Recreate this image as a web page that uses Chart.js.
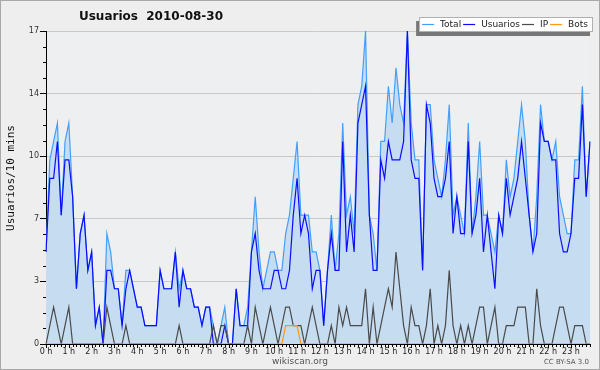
<!DOCTYPE html>
<html>
<head>
<meta charset="utf-8">
<script src="https://cdn.jsdelivr.net/npm/chart.js@4"></script>
<style>
  html, body { margin: 0; padding: 0; background: #eeeeee; }
  #usuarios { display: block; }
</style>
</head>
<body>
<canvas id="usuarios" width="600" height="370"></canvas>
<script>
// 10-minute slots of the day, 00:00 .. 23:50
const times = Array.from({ length: 144 }, (_, i) =>
  String(Math.floor(i / 6)).padStart(2, "0") + ":" + String((i % 6) * 10).padStart(2, "0"));

const hourLabels = ["0 h", "1 h", "2 h", "3 h", "4 h", "5 h", "6 h", "7 h", "8 h", "9 h", "10 h", "11 h",
  "12 h", "13 h", "14 h", "15 h", "16 h", "17 h", "18 h", "19 h", "20 h", "21 h", "22 h", "23 h"];

const seriesNames = ["Total", "Usuarios", "IP", "Bots"];

// one row = two hours
const total = [
  5, 10, 11, 12, 7, 11, 12, 8, 3, 6, 7, 4,
  5, 1, 2, 0, 6, 5, 3, 3, 1, 4, 4, 3,
  2, 2, 1, 1, 1, 1, 4, 3, 3, 3, 5, 3,
  4, 3, 3, 2, 2, 1, 2, 2, 1, 0, 1, 2,
  0, 0, 3, 1, 1, 2, 5, 8, 5, 3, 4, 5,
  5, 4, 4, 6, 7, 9, 11, 7, 7, 7, 5, 5,
  4, 1, 4, 7, 4, 6, 12, 7, 8, 6, 13, 14,
  17, 7, 6, 4, 11, 11, 14, 12, 15, 13, 12, 17,
  12, 10, 10, 4, 13, 13, 10, 9, 8, 10, 13, 7,
  8, 7, 6, 12, 6, 8, 11, 7, 7, 6, 5, 7,
  6, 10, 8, 9, 11, 13, 11, 7, 5, 8, 13, 11,
  11, 10, 11, 8, 7, 6, 6, 10, 10, 14, 8, 11
];

const usuarios = [
  5, 9, 9, 11, 7, 10, 10, 8, 3, 6, 7, 4,
  5, 1, 2, 0, 4, 4, 3, 3, 1, 3, 4, 3,
  2, 2, 1, 1, 1, 1, 4, 3, 3, 3, 5, 2,
  4, 3, 3, 2, 2, 1, 2, 2, 0, 0, 0, 1,
  0, 0, 3, 1, 1, 1, 5, 6, 4, 3, 3, 3,
  4, 4, 3, 3, 4, 7, 9, 6, 7, 6, 3, 4,
  4, 1, 4, 6, 4, 4, 11, 5, 7, 5, 12, 13,
  14, 7, 4, 4, 10, 9, 11, 10, 10, 10, 11, 17,
  10, 9, 9, 4, 13, 12, 9, 8, 8, 9, 11, 6,
  8, 6, 6, 11, 6, 7, 9, 5, 7, 5, 3, 7,
  6, 9, 7, 8, 9, 11, 9, 7, 5, 6, 12, 11,
  11, 10, 10, 6, 5, 5, 6, 9, 9, 13, 8, 11
];

const ip = [
  0, 1, 2, 1, 0, 1, 2, 0, 0, 0, 0, 0,
  0, 0, 0, 0, 2, 1, 0, 0, 0, 1, 0, 0,
  0, 0, 0, 0, 0, 0, 0, 0, 0, 0, 0, 1,
  0, 0, 0, 0, 0, 0, 0, 0, 1, 0, 1, 1,
  0, 0, 0, 0, 0, 1, 0, 2, 1, 0, 1, 2,
  1, 0, 1, 2, 2, 1, 1, 1, 0, 1, 2, 1,
  0, 0, 0, 1, 0, 2, 1, 2, 1, 1, 1, 1,
  3, 0, 2, 0, 1, 2, 3, 2, 5, 3, 1, 0,
  2, 1, 1, 0, 1, 3, 0, 1, 0, 1, 4, 1,
  0, 1, 0, 1, 0, 1, 2, 2, 0, 1, 2, 0,
  0, 1, 1, 1, 2, 2, 2, 0, 0, 3, 1, 0,
  0, 0, 1, 2, 2, 1, 0, 1, 1, 1, 0, 0
];

const bots = [
  0, 0, 0, 0, 0, 0, 0, 0, 0, 0, 0, 0,
  0, 0, 0, 0, 0, 0, 0, 0, 0, 0, 0, 0,
  0, 0, 0, 0, 0, 0, 0, 0, 0, 0, 0, 0,
  0, 0, 0, 0, 0, 0, 0, 0, 0, 0, 0, 0,
  0, 0, 0, 0, 0, 0, 0, 0, 0, 0, 0, 0,
  0, 0, 0, 1, 1, 1, 1, 0, 0, 0, 0, 0,
  0, 0, 0, 0, 0, 0, 0, 0, 0, 0, 0, 0,
  0, 0, 0, 0, 0, 0, 0, 0, 0, 0, 0, 0,
  0, 0, 0, 0, 0, 0, 0, 0, 0, 0, 0, 0,
  0, 0, 0, 0, 0, 0, 0, 0, 0, 0, 0, 0,
  0, 0, 0, 0, 0, 0, 0, 0, 0, 0, 0, 0,
  0, 0, 0, 0, 0, 0, 0, 0, 0, 0, 0, 0
];

// y axis: 5 equal steps up to 17, labels shown rounded
const yMax = 17;
const yTickValues = [0, 3.4, 6.8, 10.2, 13.6, 17];
const yTickLabels = ["0", "3", "7", "10", "14", "17"];

const FONT = "'DejaVu Sans', sans-serif";

// background, title, legend, minor ticks, footer
const decorations = {
  id: "decorations",
  beforeDraw(chart) {
    const { ctx, chartArea: a } = chart;
    ctx.save();
    ctx.fillStyle = "#eeeeee";
    ctx.fillRect(0, 0, chart.width, chart.height);
    ctx.fillStyle = "#eeeff1";
    ctx.fillRect(a.left, a.top, a.right - a.left, a.bottom - a.top);
    ctx.restore();
  },
  afterDraw(chart) {
    const { ctx, chartArea: a, scales } = chart;
    const xs = scales.x, ys = scales.y;
    ctx.save();

    // minor ticks on y, 10-minute ticks on x
    ctx.strokeStyle = "#000";
    ctx.lineWidth = 1;
    ctx.beginPath();
    for (let k = 1; k < 20; k++) {
      if (k % 4 === 0) continue;
      const py = Math.round(ys.getPixelForValue(k * yMax / 20)) + 0.5;
      ctx.moveTo(a.left - 3, py);
      ctx.lineTo(a.left, py);
    }
    times.forEach((t, i) => {
      const px = Math.round(xs.getPixelForValue(i)) + 0.5;
      ctx.moveTo(px, a.bottom);
      ctx.lineTo(px, a.bottom + (i % 6 === 0 ? 4 : 3));
    });
    ctx.stroke();

    // outer frame
    ctx.strokeStyle = "#a9a9a9";
    ctx.strokeRect(0.5, 0.5, chart.width - 1, chart.height - 1);

    // title
    ctx.fillStyle = "#111";
    ctx.font = "bold 12px " + FONT;
    ctx.textAlign = "center";
    ctx.textBaseline = "alphabetic";
    ctx.fillText("Usuarios  2010-08-30", 151, 20);

    // y axis title
    ctx.save();
    ctx.translate(11, 178);
    ctx.rotate(-Math.PI / 2);
    ctx.font = "11px 'DejaVu Sans Mono', monospace";
    ctx.textBaseline = "middle";
    ctx.fillText("Usuarios/10 mins", 0, 0);
    ctx.restore();

    // legend
    ctx.font = "9px " + FONT;
    ctx.textAlign = "left";
    ctx.textBaseline = "middle";
    const sets = chart.data.datasets;
    let w = 3;
    seriesNames.forEach((n) => { w += 12 + 6 + ctx.measureText(n).width + 2; });
    w += 3;
    const bx = 593 - w, by = 17, bh = 15;
    ctx.fillStyle = "#777";
    ctx.fillRect(bx - 3, by + 4, w, bh);
    ctx.fillStyle = "#fff";
    ctx.fillRect(bx, by, w, bh);
    ctx.strokeStyle = "#b0b0b0";
    ctx.strokeRect(bx + 0.5, by + 0.5, w - 1, bh - 1);
    let lx = bx + 3;
    const ly = by + 7.5;
    seriesNames.forEach((n, i) => {
      ctx.strokeStyle = sets[i].borderColor;
      ctx.lineWidth = 1.2;
      ctx.beginPath();
      ctx.moveTo(lx, ly);
      ctx.lineTo(lx + 12, ly);
      ctx.stroke();
      ctx.fillStyle = "#222";
      ctx.fillText(n, lx + 18, ly + 0.5);
      lx += 12 + 6 + ctx.measureText(n).width + 2;
    });

    // footer
    ctx.fillStyle = "#555";
    ctx.font = "9px " + FONT;
    ctx.textAlign = "center";
    ctx.textBaseline = "alphabetic";
    ctx.fillText("wikiscan.org", 300, 364);
    ctx.font = "7px " + FONT;
    ctx.textAlign = "right";
    ctx.fillText("CC BY-SA 3.0", 589, 364);
    ctx.restore();
  }
};

const lineStyle = { borderWidth: 1.2, pointRadius: 0, tension: 0, fill: false };

new Chart(document.getElementById("usuarios").getContext("2d"), {
  type: "line",
  data: {
    labels: times,
    datasets: [
      { ...lineStyle, label: seriesNames[0], data: total, borderColor: "#42a0fa",
        backgroundColor: "#c5dcf1", fill: "origin", order: 4 },
      { ...lineStyle, label: seriesNames[1], data: usuarios, borderColor: "#0c0cff", order: 3 },
      { ...lineStyle, label: seriesNames[2], data: ip, borderColor: "#4a4a4a", order: 2 },
      { ...lineStyle, label: seriesNames[3], data: bots, borderColor: "#ff9a10", order: 1 },
    ],
  },
  options: {
    responsive: false,
    animation: false,
    layout: { padding: { top: 31, right: 10, left: 0, bottom: 0 } },
    plugins: {
      legend: { display: false },
      tooltip: { enabled: false },
      filler: { drawTime: "beforeDatasetsDraw" },
    },
    scales: {
      x: {
        type: "category",
        offset: false,
        afterFit: (scale) => { scale.height = 26; },
        grid: { display: false, drawTicks: false },
        border: { display: true, color: "#000", width: 1 },
        ticks: {
          autoSkip: false,
          maxRotation: 0,
          padding: 3,
          color: "#222",
          font: { family: FONT, size: 8 },
          callback: (val, idx) => (idx % 6 === 0 ? hourLabels[idx / 6] : ""),
        },
      },
      y: {
        min: 0,
        max: yMax,
        afterFit: (scale) => { scale.width = 46; },
        afterBuildTicks: (scale) => { scale.ticks = yTickValues.map((v) => ({ value: v })); },
        grid: {
          color: (c) => (c.tick && c.tick.value > 0 ? "#c9c9c9" : "rgba(0,0,0,0)"),
          tickColor: "#000",
          tickLength: 6,
        },
        border: { display: true, color: "#000", width: 1 },
        ticks: {
          padding: 1,
          color: "#333",
          font: { family: FONT, size: 8 },
          callback: (val, idx) => yTickLabels[idx],
        },
      },
    },
  },
  plugins: [decorations],
});
</script>
</body>
</html>
